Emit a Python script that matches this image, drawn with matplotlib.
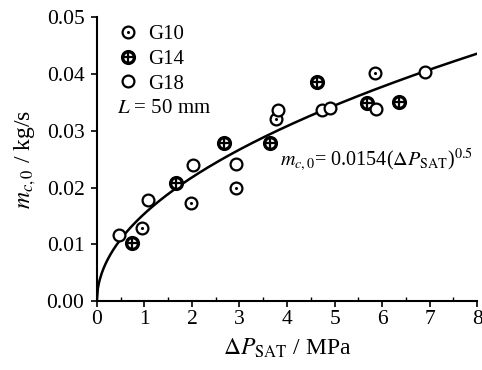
import numpy as np
import matplotlib
matplotlib.use("Agg")
import matplotlib.pyplot as plt
from matplotlib.ticker import MultipleLocator
from matplotlib.legend_handler import HandlerTuple
from matplotlib.lines import Line2D

plt.rcParams['font.family'] = ['Liberation Serif', 'DejaVu Serif']
plt.rcParams['mathtext.fontset'] = 'stix'

# Data
g10_x = [0.94, 1.98, 2.93, 3.77, 5.86]
g10_y = [0.0128, 0.0172, 0.0200, 0.0321, 0.0401]
g14_x = [0.74, 1.66, 2.67, 3.65, 4.62, 5.68, 6.36]
g14_y = [0.0102, 0.0208, 0.0278, 0.0278, 0.0385, 0.0349, 0.0351]
g18_x = [0.47, 1.08, 2.03, 2.92, 3.80, 4.73, 4.91, 5.87, 6.90]
g18_y = [0.0116, 0.0178, 0.0240, 0.0242, 0.0337, 0.0336, 0.0340, 0.0338, 0.0403]
fit_coef = 0.0154
fit_exp = 0.5

fig = plt.figure(figsize=(4.82, 3.70), dpi=100)
ax = fig.add_axes([0.201, 0.186, 0.789, 0.768])

xs = np.linspace(0, 8, 400)
ax.plot(xs, fit_coef * xs ** fit_exp, color='black', lw=1.8, zorder=2)

ms = 8.5
mew = 1.6
# G10: circle with center dot
ax.plot(g10_x, g10_y, ls='none', marker='o', ms=ms, mfc='white', mec='black', mew=mew, zorder=3)
ax.plot(g10_x, g10_y, ls='none', marker='o', ms=2.2, mfc='black', mec='black', mew=0, zorder=4)
# G14: circle with cross
ax.plot(g14_x, g14_y, ls='none', marker='o', ms=ms, mfc='white', mec='black', mew=mew + 0.8, zorder=3)
ax.plot(g14_x, g14_y, ls='none', marker='+', ms=ms - 1, mec='black', mew=1.6, zorder=4)
# G18: open circle
ax.plot(g18_x, g18_y, ls='none', marker='o', ms=ms, mfc='white', mec='black', mew=mew, zorder=3)

h10 = (Line2D([], [], ls='none', marker='o', ms=ms, mfc='white', mec='black', mew=mew),
       Line2D([], [], ls='none', marker='o', ms=2.2, mfc='black', mec='black', mew=0))
h14 = (Line2D([], [], ls='none', marker='o', ms=ms, mfc='white', mec='black', mew=mew + 0.8),
       Line2D([], [], ls='none', marker='+', ms=ms - 1, mec='black', mew=1.6))
h18 = Line2D([], [], ls='none', marker='o', ms=ms, mfc='white', mec='black', mew=mew)
ax.legend([h10, h14, h18], ['G10', 'G14', 'G18'],
          handler_map={tuple: HandlerTuple(ndivide=1, pad=0)},
          loc='upper left', bbox_to_anchor=(0.015, 1.025), frameon=False,
          fontsize=15, handlelength=1.0, handletextpad=0.5, labelspacing=0.25,
          borderaxespad=0.3)
ax.text(0.42, 0.0339, r'$L$ = 50 mm', fontsize=15, ha='left', va='center')

ax.text(3.85, 0.0249, r'$m_{c,0}$= 0.0154($\Delta P_{\rm SAT}$)$^{0.5}$', fontsize=14.5,
        ha='left', va='center', clip_on=False)

ax.set_xlim(0, 8)
ax.set_ylim(0, 0.05)
ax.xaxis.set_major_locator(MultipleLocator(1))
ax.xaxis.set_minor_locator(MultipleLocator(0.5))
ax.yaxis.set_major_locator(MultipleLocator(0.01))
ax.set_yticklabels([f'{v:.2f}' for v in ax.get_yticks()])
ax.tick_params(axis='both', which='major', direction='out', length=4, width=1.2, labelsize=15.5, pad=2)
ax.tick_params(axis='y', which='major', pad=5)
ax.tick_params(axis='x', which='minor', direction='in', length=3, width=1.0)
for s in ['top', 'right']:
    ax.spines[s].set_visible(False)
for s in ['left', 'bottom']:
    ax.spines[s].set_linewidth(1.5)

ax.set_xlabel(r'$\Delta P_{\rm SAT}$ / MPa', fontsize=17, labelpad=6)
ax.set_ylabel(r'$m_{c,0}$ / kg/s', fontsize=17, labelpad=6)

fig.savefig('out.png', dpi=100)
